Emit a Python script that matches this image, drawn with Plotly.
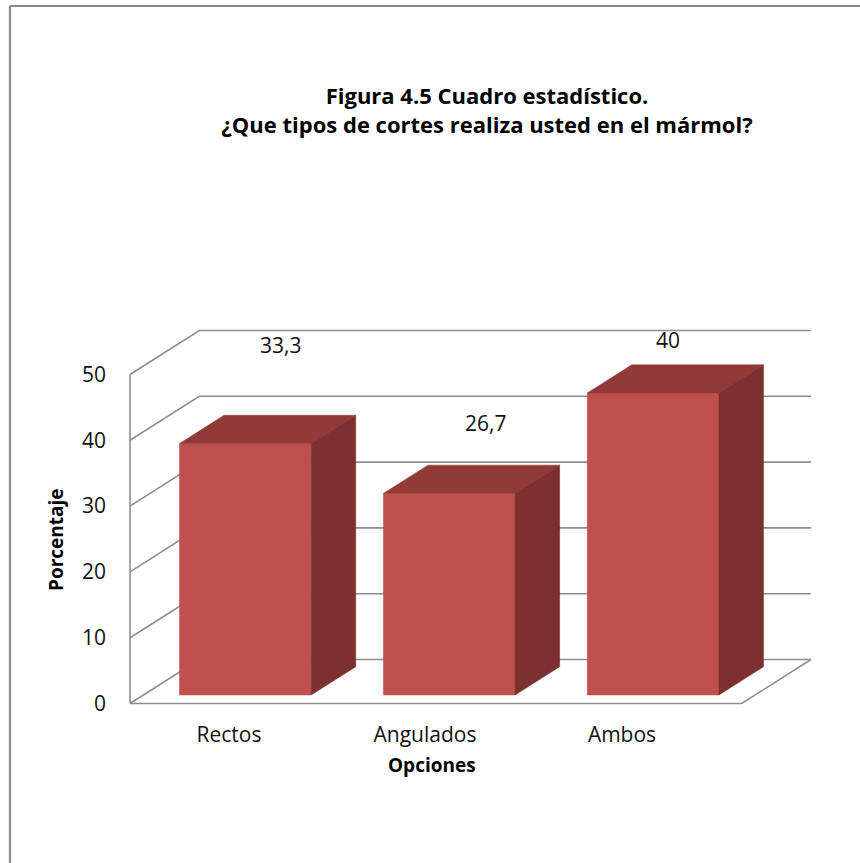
import plotly.graph_objects as go

# ---- data ----
categories = ["Rectos", "Angulados", "Ambos"]
values = [33.3, 26.7, 40]
value_ticks = [0, 10, 20, 30, 40, 50]
label_texts = ["33,3", "26,7", "40"]

# ---- page geometry (pixels) ----
W, H = 860, 863
ORIGIN_PX = (130.0, 703.5)      # front-left corner of the floor
PX_PER_CAT = 203.9              # width of one category band
PX_PER_PCT = 6.58               # scale of the percentage axis
PX_PER_BAR = 7.55               # scale used for the bar bodies
DEPTH_PX = (69.3, 44.0)         # oblique depth of the floor / walls
BAR_FRONT, BAR_BACK = 0.193, 0.836   # bar depth as fractions of the floor depth
BAR_WIDTH = 0.646               # bar width in category units

# category-label and value-label anchors (pixels)
cat_label_px = [229, 425, 622]
value_label_px = [(280, 345), (485, 423), (668, 340)]

FRONT_COL = "#C0504D"
TOP_COL = "#913A38"
SIDE_COL = "#7C302F"
GRID_COL = "#8E8E8E"
FONT = "Open Sans"


def x_of_px(px):
    return (px - ORIGIN_PX[0]) / PX_PER_CAT - 0.5


def y_of_px(py):
    return (ORIGIN_PX[1] - py) / PX_PER_PCT


# bars are measured from the bottom of their front face
BAR_BASE_PY = ORIGIN_PX[1] - BAR_FRONT * DEPTH_PX[1]


def y2_of_px(py):
    return (BAR_BASE_PY - py) / PX_PER_BAR


DX = DEPTH_PX[0] / PX_PER_CAT        # full depth in category units
DY = DEPTH_PX[1] / PX_PER_PCT        # full depth in axis units
n = len(categories)

fig = go.Figure()

# ---- walls and floor ----
gx, gy = [], []
for v in value_ticks:
    gx += [-0.5, -0.5 + DX, n - 0.5 + DX, None]
    gy += [v, v + DY, v + DY, None]
# front edge and right edge of the floor
gx += [-0.5, n - 0.5, n - 0.5 + DX, None]
gy += [0, 0, DY, None]
# front vertical axis line
gx += [-0.5, -0.5, None]
gy += [0, value_ticks[-1], None]
fig.add_trace(go.Scatter(x=gx, y=gy, mode="lines",
                         line=dict(color=GRID_COL, width=1.6),
                         hoverinfo="skip", showlegend=False))

# ---- 3D bars (drawn on their own value scale) ----
bdx = (BAR_BACK - BAR_FRONT) * DX
bdy = (BAR_BACK - BAR_FRONT) * DEPTH_PX[1] / PX_PER_BAR
fx, fy, tx, ty, sx, sy = [], [], [], [], [], []
for i, v in enumerate(values):
    x0 = i - BAR_WIDTH / 2 + BAR_FRONT * DX
    x1 = x0 + BAR_WIDTH
    fx += [x0, x1, x1, x0, x0, None]
    fy += [0, 0, v, v, 0, None]
    tx += [x0, x1, x1 + bdx, x0 + bdx, x0, None]
    ty += [v, v, v + bdy, v + bdy, v, None]
    sx += [x1, x1 + bdx, x1 + bdx, x1, x1, None]
    sy += [0, bdy, v + bdy, v, 0, None]

for xs, ys, col in ((fx, fy, FRONT_COL), (tx, ty, TOP_COL), (sx, sy, SIDE_COL)):
    fig.add_trace(go.Scatter(x=xs, y=ys, yaxis="y2", mode="lines",
                             fill="toself", fillcolor=col,
                             line=dict(color=col, width=0.5),
                             hoverinfo="skip", showlegend=False))

# ---- value labels ----
for txt, (px, py) in zip(label_texts, value_label_px):
    fig.add_annotation(x=x_of_px(px), y=y_of_px(py), xref="x", yref="y",
                       xanchor="center", yanchor="middle",
                       text=txt, showarrow=False,
                       font=dict(family=FONT, size=21, color="#111111"))

# ---- axis titles ----
fig.add_annotation(x=56 / W, y=1 - 540 / H, xref="paper", yref="paper",
                   xanchor="center", yanchor="middle",
                   text="<b>Porcentaje</b>", textangle=-90, showarrow=False,
                   font=dict(family=FONT, size=19, color="#000000"))
fig.add_annotation(x=432 / W, y=1 - 765 / H, xref="paper", yref="paper",
                   xanchor="center", yanchor="middle",
                   text="<b>Opciones</b>", showarrow=False,
                   font=dict(family=FONT, size=19, color="#000000"))

# ---- chart border (left and top edges) ----
fig.add_shape(type="line", xref="paper", yref="paper",
              x0=10 / W, y0=0, x1=10 / W, y1=1 - 6 / H,
              line=dict(color="#888888", width=2.2))
fig.add_shape(type="line", xref="paper", yref="paper",
              x0=10 / W, y0=1 - 6 / H, x1=1, y1=1 - 6 / H,
              line=dict(color="#888888", width=2.2))

fig.update_layout(
    width=W, height=H,
    margin=dict(l=0, r=0, t=0, b=0),
    paper_bgcolor="white", plot_bgcolor="white",
    font=dict(family=FONT, color="#111111"),
    title=dict(
        text="<b>Figura 4.5 Cuadro estadístico.</b><br><b>¿Que tipos de cortes realiza usted en el mármol?</b>",
        x=487 / W, xanchor="center", y=1 - 104 / H, yanchor="middle",
        font=dict(family=FONT, size=22, color="#000000"),
    ),
    xaxis=dict(
        domain=[0, 1], range=[x_of_px(0), x_of_px(W)],
        showgrid=False, zeroline=False, showline=False,
        tickmode="array", tickvals=[x_of_px(p) for p in cat_label_px],
        ticktext=categories, ticks="", ticklabelstandoff=16,
        anchor="free", position=1 - ORIGIN_PX[1] / H,
        tickfont=dict(family=FONT, size=21, color="#111111"),
        fixedrange=True,
    ),
    yaxis=dict(
        domain=[0, 1], range=[y_of_px(H), y_of_px(0)],
        showgrid=False, zeroline=False, showline=False,
        tickmode="array", tickvals=value_ticks,
        ticktext=[str(v) for v in value_ticks], ticks="", ticklabelstandoff=24,
        anchor="free", position=ORIGIN_PX[0] / W,
        tickfont=dict(family=FONT, size=21, color="#111111"),
        fixedrange=True,
    ),
    yaxis2=dict(
        overlaying="y", range=[y2_of_px(H), y2_of_px(0)],
        visible=False, fixedrange=True,
    ),
    showlegend=False,
)

fig.write_html("out.html")
